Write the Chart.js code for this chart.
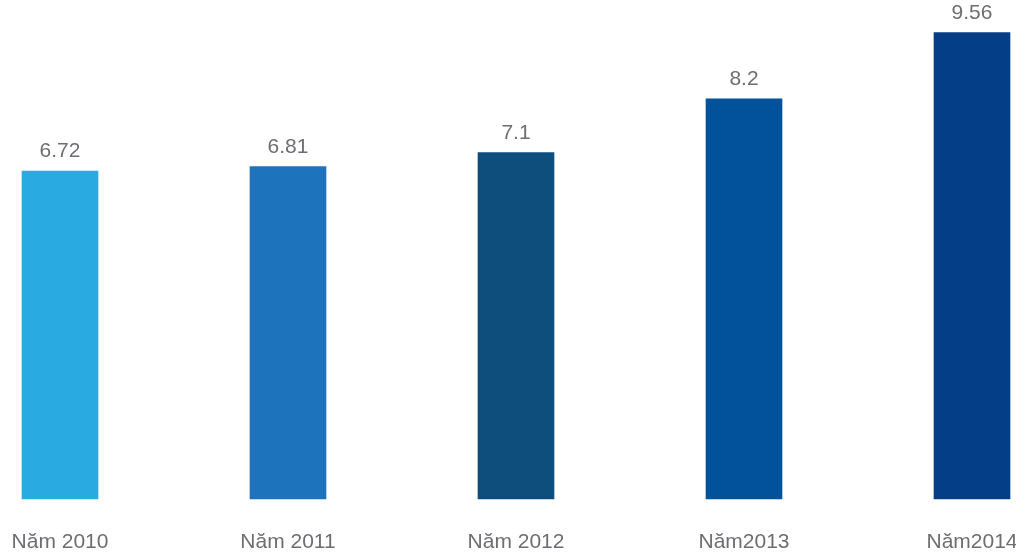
<!DOCTYPE html>
<html>
<head>
<meta charset="utf-8">
<script src="https://cdn.jsdelivr.net/npm/chart.js@4/dist/chart.umd.min.js"></script>
<style>
  html, body { margin: 0; padding: 0; background: #fff; }
  #wrap { width: 1016px; height: 554px; }
</style>
</head>
<body>
<div id="wrap"><canvas id="grafico"></canvas></div>
<script>
// dados do gráfico
const nam = ['Năm 2010', 'Năm 2011', 'Năm 2012', 'Năm2013', 'Năm2014'];
const valores = [6.72, 6.81, 7.1, 8.2, 9.56];
const cores = ['#29aae1', '#1e73bd', '#0e4e7d', '#01529b', '#033e87'];

// rótulos em cima das barras
const rotulos = {
  id: 'rotulos',
  afterDatasetsDraw(chart) {
    const ctx = chart.ctx;
    const meta = chart.getDatasetMeta(0);
    ctx.save();
    ctx.font = '21px "Liberation Sans", Arial, sans-serif';
    ctx.fillStyle = '#6d6e71';
    ctx.textAlign = 'center';
    ctx.textBaseline = 'bottom';
    meta.data.forEach((bar, i) => {
      ctx.fillText(String(valores[i]), bar.x, bar.y - 9);
    });
    ctx.restore();
  }
};

new Chart(document.getElementById('grafico'), {
  type: 'bar',
  data: {
    labels: nam,
    datasets: [
      {
        label: '',
        data: valores,
        backgroundColor: cores,
        barThickness: 76,
        clip: false
      }
    ]
  },
  options: {
    responsive: true,
    maintainAspectRatio: false,
    animation: false,
    layout: { padding: { top: 11, left: 60, right: 44, bottom: 0 } },
    plugins: {
      legend: { display: false },
      tooltip: { enabled: false }
    },
    scales: {
      x: {
        offset: false,
        grid: { display: false, drawTicks: false },
        border: { display: false },
        ticks: {
          padding: 31,
          color: '#6d6e71',
          font: { family: '"Liberation Sans", Arial, sans-serif', size: 21 },
          maxRotation: 0,
          minRotation: 0
        },
        afterFit(scale) {
          scale.height = 55;
          scale.paddingLeft = 0;
          scale.paddingRight = 0;
        }
      },
      y: {
        display: false,
        min: 0,
        max: 10
      }
    }
  },
  plugins: [rotulos]
});
</script>
</body>
</html>
